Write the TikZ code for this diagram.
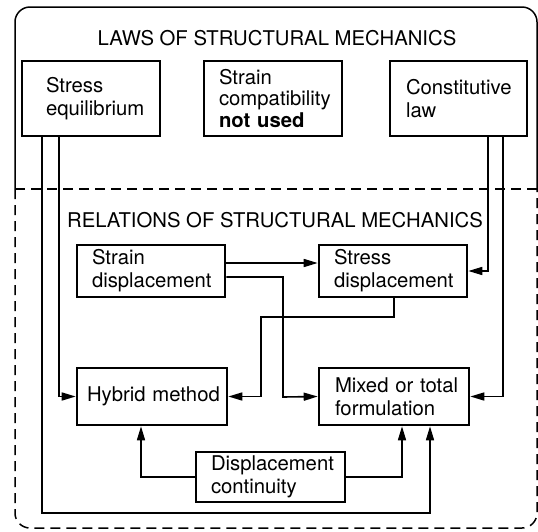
\documentclass[tikz,border=0pt]{standalone}
\usepackage{fontspec}
\setmainfont{TeX Gyre Heros}
\usetikzlibrary{arrows.meta}

\begin{document}
\begin{tikzpicture}[x=1pt,y=-1pt,
  every node/.style={font=\fontsize{20.3}{23}\selectfont},
  box/.style={draw,line width=2.6pt,align=left,inner xsep=15pt,inner ysep=2pt},
  link/.style={line width=1.6pt,-{Triangle[length=14pt,width=8pt]}},
  frameline/.style={line width=1.5pt,rounded corners=15pt}]
\useasboundingbox (0,0) rectangle (538,531);
% outer frame, laws above the dashed line, relations below
\draw[frameline] (15,189) -- (15,7) -- (537,7) -- (537,189);
\draw[frameline,dash pattern=on 10pt off 6pt] (15,189) -- (15,528) -- (537,528) -- (537,189);
\draw[line width=1.5pt,dash pattern=on 10pt off 6pt] (15,189) -- (537,189);
\node (laws) at (277,38.5) {LAWS OF STRUCTURAL MECHANICS};
\node (rels) at (275,220) {RELATIONS OF STRUCTURAL MECHANICS};
% laws
\node[box,inner xsep=24pt,text width=90pt,minimum width=138pt,minimum height=75pt] (stresseq) at (91,98.5) {Stress\\\mbox{equilibrium}};
\node[box,text width=108pt,minimum width=138pt,minimum height=75pt,font=\fontsize{20.3}{21.5}\selectfont] (straincomp) at (273,98.5) {Strain\\\mbox{compatibility}\\\mbox{\textbf{not used}}};
\node[box,inner xsep=16pt,text width=105pt,minimum width=137pt,minimum height=75pt] (constit) at (458.5,98.5) {\mbox{Constitutive}\\law};
% relations
\node[box,text width=118pt,minimum width=148pt,minimum height=52pt] (straindisp) at (151,271) {Strain\\\mbox{displacement}};
\node[box,text width=118pt,minimum width=148pt,minimum height=52pt] (stressdisp) at (393,271) {Stress\\\mbox{displacement}};
\node[box,align=center,inner xsep=10pt,text width=130pt,minimum width=150pt,minimum height=57pt] (hybrid) at (152,396.5) {\mbox{Hybrid method}};
\node[box,inner xsep=16pt,text width=118pt,minimum width=150pt,minimum height=57pt] (mixed) at (394,396.5) {\mbox{Mixed or total}\\\mbox{formulation}};
\node[box,text width=119pt,minimum width=149pt,minimum height=50pt] (dispcont) at (270.5,477) {\mbox{Displacement}\\\mbox{continuity}};
% connectors
\draw[link] (stresseq.south -| 42,0) |- (430,513) -- (mixed.south -| 430,0);
\draw[link] (stresseq.south -| 59,0) |- (hybrid.west);
\draw[link] (constit.south -| 488,0) |- (stressdisp.east);
\draw[link] (constit.south -| 503,0) |- (mixed.east);
\draw[link] (straindisp.east |- 0,263) -- (stressdisp.west |- 0,263);
\draw[link] (straindisp.east |- 0,277) -| (283,397) -- (mixed.west);
\draw[link] (stressdisp.south -| 394,0) |- (261,317) |- (hybrid.east);
\draw[link] (dispcont.west) -| (hybrid.south -| 141,0);
\draw[link] (dispcont.east) -| (mixed.south -| 402,0);
\end{tikzpicture}
\end{document}
